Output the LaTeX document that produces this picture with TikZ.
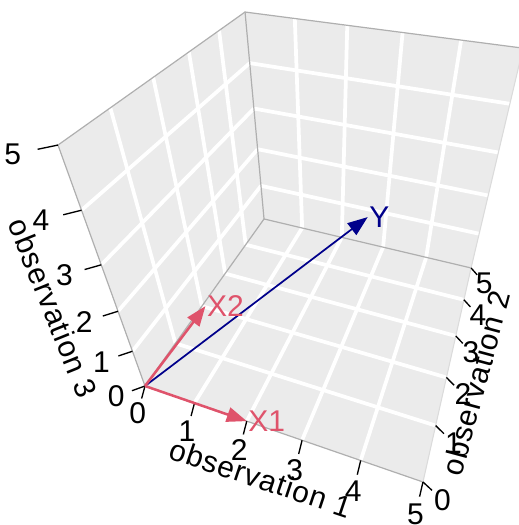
\documentclass[tikz,border=0pt]{standalone}
\usepackage{fontspec}
\setmainfont{Liberation Sans}
\usetikzlibrary{arrows.meta}
\definecolor{panelGray}{RGB}{235,235,235}
\definecolor{edgeGray}{RGB}{175,175,175}
\definecolor{vecRed}{HTML}{DF536B}
\definecolor{vecBlue}{RGB}{0,0,139}

% perspective view: data point (x,y,z) -> named coordinate
\newcommand\projpt[4]{%
  \pgfmathsetmacro\prjw{1-0.134*(#2)/5+0.3737*(#3)/5-0.3257*(#4)/5}%
  \pgfmathsetmacro\prju{(145+221.3*(#2)/5+217.7*(#3)/5-105.9*(#4)/5)/\prjw}%
  \pgfmathsetmacro\prjv{(386+31.4*(#2)/5-85.2*(#3)/5-288.2*(#4)/5)/\prjw}%
  \coordinate (#1) at (\prju,\prjv)}

\begin{document}
\begin{tikzpicture}[
    x=0.75pt, y=-0.75pt,
    font=\fontsize{22.5}{22.5}\selectfont,
    panel/.style={fill=panelGray},
    edge/.style={draw=edgeGray, line width=0.9pt, line cap=round},
    faint/.style={draw=edgeGray!45, line width=0.8pt},
    grid/.style={draw=white, line width=2.8pt},
    tick/.style={draw=black, line width=1pt},
    axtitle/.style={font=\fontsize{22.5}{22.5}\selectfont\addfontfeatures{LetterSpace=3}},
    vec/.style={-{Triangle[length=15pt, width=11pt]}, line width=1.9pt},
    vlabel/.style={anchor=west, inner sep=1pt}
  ]
  \useasboundingbox (0,0) rectangle (518,525);

  % box corners
  \projpt{o}{0}{0}{0};
  \projpt{x5}{5}{0}{0};
  \projpt{y5}{0}{5}{0};
  \projpt{z5}{0}{0}{5};
  \projpt{yz5}{0}{5}{5};
  \projpt{xy5}{5}{5}{0};
  \projpt{xyz5}{5}{5}{5};

  % panels
  \fill[panel] (o) -- (y5) -- (yz5) -- (z5) -- cycle;
  \fill[panel] (y5) -- (xy5) -- (xyz5) -- (yz5) -- cycle;
  \fill[panel] (o) -- (x5) -- (xy5) -- (y5) -- cycle;

  % grid lines
  \foreach \k in {1,...,4} {
    \projpt{ga}{0}{\k}{0}; \projpt{gb}{0}{\k}{5}; \draw[grid] (ga) -- (gb);
    \projpt{ga}{0}{0}{\k}; \projpt{gb}{0}{5}{\k}; \draw[grid] (ga) -- (gb);
    \projpt{ga}{\k}{5}{0}; \projpt{gb}{\k}{5}{5}; \draw[grid] (ga) -- (gb);
    \projpt{ga}{0}{5}{\k}; \projpt{gb}{5}{5}{\k}; \draw[grid] (ga) -- (gb);
    \projpt{ga}{\k}{0}{0}; \projpt{gb}{\k}{5}{0}; \draw[grid] (ga) -- (gb);
    \projpt{ga}{0}{\k}{0}; \projpt{gb}{5}{\k}{0}; \draw[grid] (ga) -- (gb);
  }

  % box edges
  \draw[edge] (z5) -- (o) -- (x5);
  \draw[edge] (o) -- (y5) -- (xy5);
  \draw[edge] (y5) -- (yz5);
  \draw[edge] (z5) -- (yz5) -- (xyz5);
  \draw[faint] (x5) -- (xy5) -- (xyz5);

  % ticks and tick labels
  \foreach \k in {0,...,5} {
    \projpt{ta}{\k}{0}{0}; \projpt{tb}{\k}{-0.16}{-0.16}; \projpt{tl}{\k}{-0.35}{-0.35};
    \draw[tick] (ta) -- (tb); \node (xt\k) at (tl) {\k};
    \projpt{ta}{5}{\k}{0}; \projpt{tb}{5.16}{\k}{-0.16}; \projpt{tl}{5.35}{\k}{-0.35};
    \draw[tick] (ta) -- (tb); \node (yt\k) at (tl) {\k};
    \projpt{ta}{0}{0}{\k}; \projpt{tb}{-0.16}{-0.16}{\k}; \projpt{tl}{-0.35}{-0.35}{\k};
    \draw[tick] (ta) -- (tb); \node (zt\k) at (tl) {\k};
  }

  % axis titles
  \node[axtitle, rotate=-18.5] (obs1) at (261,478) {observation 1};
  \node[axtitle, rotate=75] (obs2) at (476,383) {observation 2};
  \node[axtitle, rotate=-68] (obs3) at (53,308) {observation 3};

  % vectors
  \projpt{x1}{2}{0}{0};
  \projpt{x2}{1.1}{0.7}{1.8};
  \projpt{yv}{3.1}{3}{2.45};
  \draw[vec, vecBlue, line width=1.3pt] (o) -- (yv);
  \draw[vec, vecRed] (o) -- (x1);
  \draw[vec, vecRed] (o) -- (x2);
  \node[vlabel, text=vecRed] (lx1) at (x1) {X1};
  \node[vlabel, text=vecRed] (lx2) at (x2) {X2};
  \node[vlabel, text=vecBlue] (ly) at (yv) {Y};
\end{tikzpicture}
\end{document}
